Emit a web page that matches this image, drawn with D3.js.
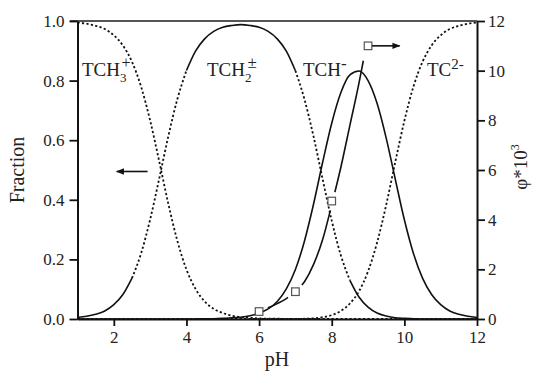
<!DOCTYPE html>
<html>
<head>
<meta charset="utf-8">
<script src="https://cdn.jsdelivr.net/npm/d3@7"></script>
<style>
  html, body { margin: 0; padding: 0; background: #fff; }
  svg { display: block; }
  text { font-family: "Liberation Serif", "Times New Roman", serif; fill: #222; }
</style>
</head>
<body>
<svg id="chart" width="536" height="371"></svg>
<script>
// pH grid shared by the speciation curves
const pH = [1, 1.25, 1.5, 1.75, 2, 2.25, 2.5, 2.75, 3, 3.25,
            3.5, 3.75, 4, 4.25, 4.5, 4.75, 5, 5.25, 5.5, 5.75,
            6, 6.25, 6.5, 6.75, 7, 7.25, 7.5, 7.75, 8, 8.25,
            8.5, 8.75, 9, 9.25, 9.5, 9.75, 10, 10.25, 10.5, 10.75,
            11, 11.25, 11.5, 11.75, 12];

// species fractions
const fracTCH3 = [0.995, 0.991, 0.984, 0.973, 0.952, 0.918, 0.863, 0.780, 0.666, 0.529,
                  0.387, 0.262, 0.166, 0.101, 0.059, 0.034, 0.020, 0.011, 0.006, 0.004,
                  0.002, 0.001, 0.001, 0, 0, 0, 0, 0, 0, 0,
                  0, 0, 0, 0, 0, 0, 0, 0, 0, 0,
                  0, 0, 0, 0, 0];
const fracTCH2 = [0.005, 0.009, 0.016, 0.027, 0.048, 0.082, 0.137, 0.220, 0.334, 0.471,
                  0.613, 0.738, 0.834, 0.899, 0.940, 0.965, 0.979, 0.985, 0.988, 0.985,
                  0.979, 0.965, 0.940, 0.899, 0.833, 0.737, 0.612, 0.469, 0.330, 0.214,
                  0.130, 0.074, 0.040, 0.020, 0.010, 0.004, 0.002, 0.001, 0, 0,
                  0, 0, 0, 0, 0];
const fracTCH = [0, 0, 0, 0, 0, 0, 0, 0, 0, 0,
                 0, 0, 0, 0, 0.001, 0.001, 0.002, 0.004, 0.006, 0.011,
                 0.020, 0.034, 0.059, 0.101, 0.166, 0.262, 0.386, 0.526, 0.657, 0.759,
                 0.819, 0.832, 0.800, 0.723, 0.607, 0.469, 0.333, 0.220, 0.137, 0.082,
                 0.048, 0.027, 0.016, 0.009, 0.005];
const fracTC = [0, 0, 0, 0, 0, 0, 0, 0, 0, 0,
                0, 0, 0, 0, 0, 0, 0, 0, 0, 0,
                0, 0, 0, 0, 0, 0.001, 0.002, 0.006, 0.013, 0.027,
                0.052, 0.093, 0.160, 0.257, 0.383, 0.527, 0.665, 0.780, 0.863, 0.918,
                0.952, 0.973, 0.984, 0.991, 0.995];

// quantum yield measurements (phi * 10^3) and the fitted curve
const phiPH = [6, 7, 8, 9];
const phiVal = [0.3, 1.1, 4.75, 11.0];
const phiFitPH = [6, 6.25, 6.5, 6.75, 7, 7.25, 7.5, 7.75, 8, 8.25, 8.5, 8.75, 8.87];
const phiFitVal = [0.3, 0.45, 0.62, 0.82, 1.1, 1.5, 2.2, 3.2, 4.6, 6.1, 7.8, 9.5, 10.4];

// axis ticks
const pHTicks = [2, 4, 6, 8, 10, 12];
const fracTicks = [0, 0.2, 0.4, 0.6, 0.8, 1.0];
const phiTicks = [0, 2, 4, 6, 8, 10, 12];

const svg = d3.select("#chart");
const x = d3.scaleLinear().domain([1, 12]).range([77.5, 477]);
const y = d3.scaleLinear().domain([0, 1]).range([319, 21]);
const y2 = d3.scaleLinear().domain([0, 12]).range([319, 21]);

const defs = svg.append("defs");
defs.append("marker")
  .attr("id", "head")
  .attr("viewBox", "0 0 10 10")
  .attr("refX", 9).attr("refY", 5)
  .attr("markerWidth", 5.5).attr("markerHeight", 5)
  .attr("markerUnits", "strokeWidth")
  .attr("orient", "auto")
  .append("path").attr("d", "M0,1 L10,5 L0,9 Z").attr("fill", "#111");

// mask that opens the fitted curve around each measurement symbol
const mask = defs.append("mask").attr("id", "phiGap");
mask.append("rect").attr("x", 0).attr("y", 0).attr("width", 536).attr("height", 371).attr("fill", "#fff");
mask.selectAll("circle").data(phiPH).join("circle")
  .attr("cx", (d) => x(d))
  .attr("cy", (d, i) => y2(phiVal[i]))
  .attr("r", 9.5)
  .attr("fill", "#000");

const curve = d3.line().curve(d3.curveMonotoneX);
const pts = (vals) => pH.map((p, i) => [x(p), y(vals[i])]);

const plot = svg.append("g").attr("fill", "none").attr("stroke", "#111");

// dotted species curves
plot.append("path").attr("d", curve(pts(fracTCH3)))
  .attr("stroke-width", 1.8).attr("stroke-dasharray", "2.2,2.3");
plot.append("path").attr("d", curve(pts(fracTC)))
  .attr("stroke-width", 1.8).attr("stroke-dasharray", "2.2,2.3");

// zwitterion: solid where the curve is flat, dotted where it is steep
const runs = [];
fracTCH2.forEach((v, i) => {
  if (i === 0) return;
  const steep = Math.abs(v - fracTCH2[i - 1]) / (pH[i] - pH[i - 1]) > 0.27;
  const last = runs[runs.length - 1];
  if (last && last.steep === steep) last.idx.push(i);
  else runs.push({ steep, idx: [i - 1, i] });
});
runs.forEach((r) => {
  plot.append("path")
    .attr("d", curve(r.idx.map((i) => [x(pH[i]), y(fracTCH2[i])])))
    .attr("stroke-width", r.steep ? 1.8 : 1.6)
    .attr("stroke-dasharray", r.steep ? "2.2,2.3" : null);
});

// monoanion: solid
plot.append("path").attr("d", curve(pts(fracTCH))).attr("stroke-width", 1.6);

// fitted quantum-yield curve
plot.append("path")
  .attr("d", curve(phiFitPH.map((p, i) => [x(p), y2(phiFitVal[i])])))
  .attr("stroke-width", 1.6)
  .attr("mask", "url(#phiGap)");

// measurement symbols
svg.append("g").selectAll("rect").data(phiPH).join("rect")
  .attr("x", (d) => x(d) - 3.8)
  .attr("y", (d, i) => y2(phiVal[i]) - 3.8)
  .attr("width", 7.6).attr("height", 7.6)
  .attr("fill", "#fff").attr("stroke", "#555").attr("stroke-width", 1.2);

// arrows pointing at the axis each family belongs to
const last = phiPH.length - 1;
svg.append("line")
  .attr("x1", x(phiPH[last]) + 4).attr("x2", x(9.87))
  .attr("y1", y2(phiVal[last])).attr("y2", y2(phiVal[last]))
  .attr("stroke", "#111").attr("stroke-width", 1.6).attr("marker-end", "url(#head)");
svg.append("line")
  .attr("x1", x(2.93)).attr("x2", x(2.08))
  .attr("y1", y(0.495)).attr("y2", y(0.495))
  .attr("stroke", "#111").attr("stroke-width", 1.6).attr("marker-end", "url(#head)");

// frame top edge
svg.append("line").attr("x1", 70).attr("x2", 477).attr("y1", 21).attr("y2", 21)
  .attr("stroke", "#555").attr("stroke-width", 2);

function styleAxis(g) {
  g.select(".domain").attr("stroke", "#111").attr("stroke-width", 2);
  g.selectAll(".tick line").attr("stroke", "#111").attr("stroke-width", 1.8);
  g.selectAll(".tick text").attr("font-size", 17)
    .attr("font-family", "'Liberation Serif', serif").attr("fill", "#222");
}

svg.append("g").attr("transform", "translate(77.5,0)")
  .call(d3.axisLeft(y).tickValues(fracTicks).tickFormat(d3.format(".1f"))
    .tickSize(8).tickSizeOuter(0).tickPadding(5))
  .call(styleAxis);
svg.append("g").attr("transform", "translate(0,319)")
  .call(d3.axisBottom(x).tickValues(pHTicks).tickFormat(d3.format("d"))
    .tickSize(7).tickSizeOuter(0).tickPadding(5))
  .call(styleAxis);
svg.append("g").attr("transform", "translate(477,0)")
  .call(d3.axisRight(y2).tickValues(phiTicks).tickFormat(d3.format("d"))
    .tickSize(8).tickSizeOuter(0).tickPadding(3))
  .call(styleAxis);

// axis titles
svg.append("text").attr("transform", "translate(24,170) rotate(-90)")
  .attr("text-anchor", "middle").attr("font-size", 20).text("Fraction");
svg.append("text").attr("x", 277).attr("y", 366)
  .attr("text-anchor", "middle").attr("font-size", 20).text("pH");
const phiTitle = svg.append("text").attr("transform", "translate(527,167) rotate(-90)")
  .attr("text-anchor", "middle").attr("font-size", 19);
phiTitle.append("tspan").text("\u03C6*10");
phiTitle.append("tspan").attr("font-size", 12).attr("dy", -8).text("3");

// species labels
function label(xp, yp, base, sub, sup, supShift, supSize) {
  const t = svg.append("text").attr("x", xp).attr("y", yp).attr("font-size", 19);
  t.append("tspan").text(base);
  if (sub) t.append("tspan").attr("font-size", 13).attr("dy", 6).text(sub);
  if (sup) t.append("tspan").attr("font-size", supSize)
    .attr("dx", sub ? supShift : 0).attr("dy", sub ? -14 : -7).text(sup);
}
label(82, 76, "TCH", "3", "+", -5, 16);
label(207, 76, "TCH", "2", "\u00B1", -4, 17);
label(303, 76, "TCH", null, "-", 0, 17);
label(427, 76, "TC", null, "2-", 0, 15);
</script>
</body>
</html>
